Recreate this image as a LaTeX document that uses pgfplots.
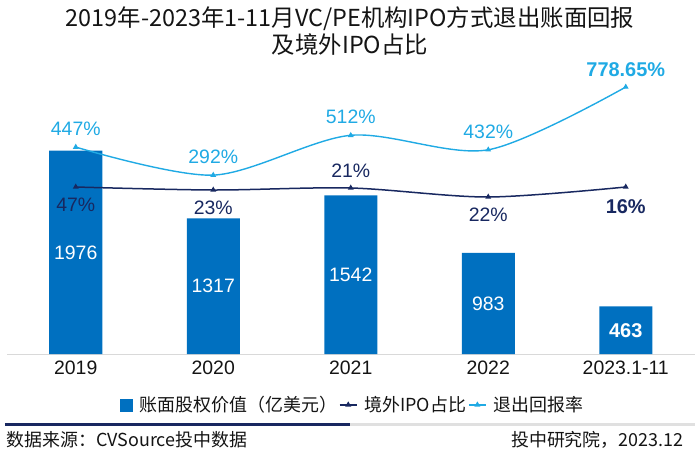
\documentclass[border=0pt]{standalone}
\usepackage{pgfplots}
\pgfplotsset{compat=1.18}
\usepackage{fontspec}
\setmainfont{Liberation Sans}
\newfontfamily\cjk{Noto Sans CJK SC}
\definecolor{barblue}{RGB}{0,112,192}
\definecolor{lineblue}{RGB}{32,170,228}
\definecolor{navy}{RGB}{24,40,96}
\definecolor{axisgray}{RGB}{217,217,217}
\definecolor{txt}{RGB}{20,20,20}
\newcommand\numfont{\fontsize{19.5}{22}\selectfont}
\newcommand\bignumfont{\fontsize{20}{23}\selectfont\bfseries}
\begin{document}
\begin{tikzpicture}
\pgfplotsset{base/.style={at={(0bp,0bp)}, anchor=south west, width=687.5bp, height=294bp, scale only axis, xmin=-0.5, xmax=4.5, clip=false}}
% bars
\begin{axis}[base, ymin=0, ymax=2857, axis y line=none, axis x line*=bottom,
  x axis line style={axisgray, line width=1bp, -},
  xtick={0,1,2,3,4}, xticklabels={2019,2020,2021,2022,2023.1-11},
  major tick length=0pt, xticklabel style={font=\numfont, text=txt, yshift=-3bp}]
\addplot[ybar, bar width=53bp, fill=barblue, draw=none] coordinates {(0,1976) (1,1317) (2,1542) (3,983) (4,463)};
\addplot[draw=none, mark=none, nodes near coords, point meta=explicit symbolic,
  nodes near coords style={anchor=center, text=white, font=\numfont}]
  coordinates {(0,988)[1976] (1,658.5)[1317] (2,771)[1542] (3,491.5)[983]};
\addplot[draw=none, mark=none, nodes near coords, point meta=explicit symbolic,
  nodes near coords style={anchor=center, text=white, font=\bignumfont}]
  coordinates {(4,231.5)[463]};
\end{axis}
% return rate
\begin{axis}[base, ymin=-696, ymax=928, hide axis]
\addplot[lineblue, line width=1.4bp, smooth, mark=triangle*, mark size=2bp] coordinates {(0,447) (1,292) (2,512) (3,432) (4,778.65)};
\addplot[draw=none, mark=none, nodes near coords, point meta=explicit symbolic,
  nodes near coords style={anchor=center, yshift=18bp, text=lineblue, font=\numfont}]
  coordinates {(0,447)[447\%] (1,292)[292\%] (2,512)[512\%] (3,432)[432\%]};
\addplot[draw=none, mark=none, nodes near coords, point meta=explicit symbolic,
  nodes near coords style={anchor=center, yshift=17bp, text=lineblue, font=\bignumfont}]
  coordinates {(4,778.65)[778.65\%]};
\end{axis}
% overseas share
\begin{axis}[base, ymin=0, ymax=294, hide axis,
  legend style={at={(0.503,-0.173)}, anchor=center, draw=none, fill=none, legend columns=-1,
    font=\cjk\fontsize{18}{21}\selectfont, text=txt,
    /tikz/every odd column/.append style={column sep=5bp}}]
\addlegendimage{legend image code/.code={\fill[barblue] (0bp,-6bp) rectangle (12bp,6bp);}}
\addlegendimage{navy, line width=1.5bp, mark=triangle*, mark size=2bp}
\addlegendimage{lineblue, line width=1.5bp, mark=triangle*, mark size=2bp}
\addplot[forget plot, navy, line width=1.5bp, smooth, mark=triangle*, mark size=2bp] coordinates {(0,167) (1,164) (2,166) (3,157) (4,167)};
\addplot[forget plot, draw=none, mark=none, nodes near coords, point meta=explicit symbolic,
  nodes near coords style={anchor=center, yshift=-18bp, text=navy, font=\numfont}]
  coordinates {(0,167)[47\%] (1,164)[23\%] (3,157)[22\%]};
\addplot[forget plot, draw=none, mark=none, nodes near coords, point meta=explicit symbolic,
  nodes near coords style={anchor=center, yshift=17bp, text=navy, font=\numfont}]
  coordinates {(2,166)[21\%]};
\addplot[forget plot, draw=none, mark=none, nodes near coords, point meta=explicit symbolic,
  nodes near coords style={anchor=center, yshift=-20bp, text=navy, font=\bignumfont}]
  coordinates {(4,167)[16\%]};
\legend{账面股权价值（亿美元）,境外IPO占比,退出回报率}
\end{axis}
\node[font=\cjk\fontsize{23.5}{27}\selectfont, text=txt] at (343bp,335bp) {2019年-2023年1-11月VC/PE机构IPO方式退出账面回报};
\node[font=\cjk\fontsize{23.5}{27}\selectfont, text=txt] at (343bp,309bp) {及境外IPO占比};
\draw[navy, line width=3bp] (-2bp,-70bp) -- (343bp,-70bp);
\draw[black!12, line width=3bp] (343bp,-70bp) -- (688bp,-70bp);
\node[anchor=west, font=\cjk\fontsize{18}{21}\selectfont, text=txt] at (-4bp,-86bp) {数据来源：CVSource投中数据};
\node[anchor=east, font=\cjk\fontsize{18}{21}\selectfont, text=txt] at (680bp,-86bp) {投中研究院，2023.12};
\pgfresetboundingbox
\path[use as bounding box] (-7bp,-118bp) rectangle (693bp,354bp);
\end{tikzpicture}
\end{document}
